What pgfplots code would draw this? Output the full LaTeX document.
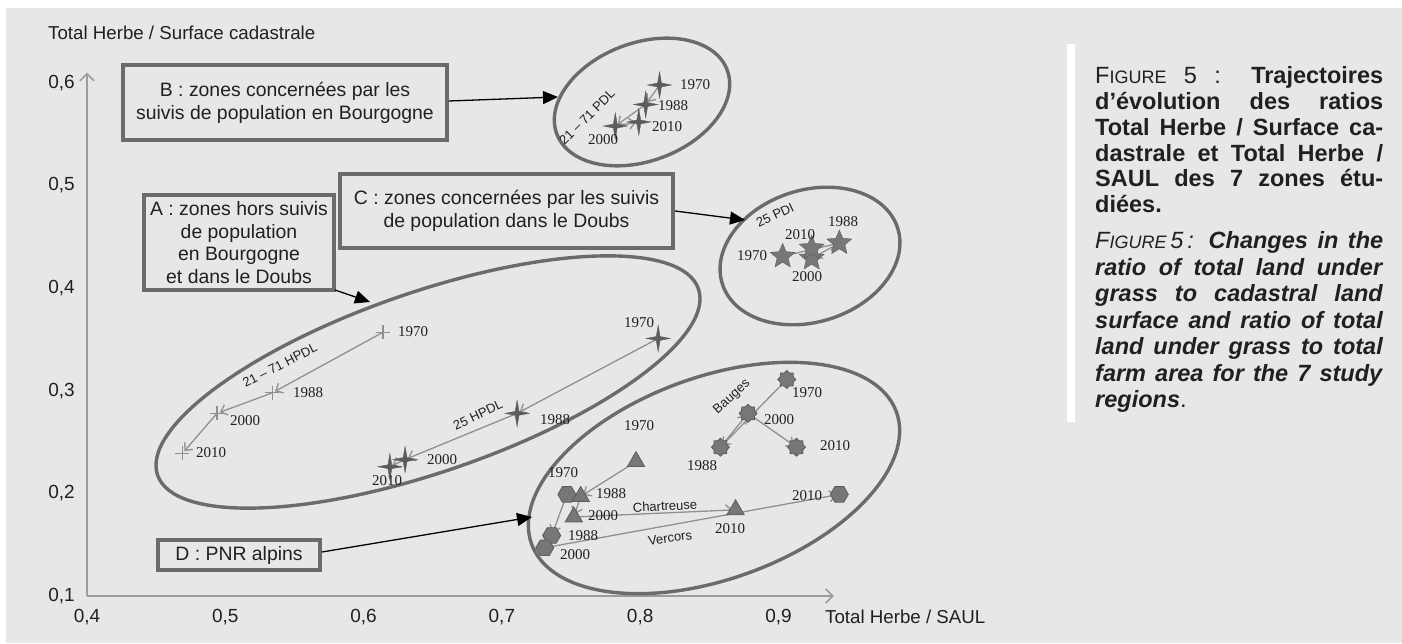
\documentclass[border=0pt]{standalone}
\usepackage{pgfplots}
\pgfplotsset{compat=1.18}
\usepackage{pgfplotstable}
\usetikzlibrary{arrows.meta}
\usepackage{fontspec}
\setmainfont{Liberation Sans}
\newfontfamily\yrfont{Liberation Serif}

\definecolor{bg}{HTML}{E6E7E8}
\definecolor{axisgray}{HTML}{9C9C9C}
\definecolor{ringgray}{HTML}{6B6B6B}
\definecolor{arrgray}{HTML}{909090}
\definecolor{markdark}{HTML}{5C5C5C}
\definecolor{markmid}{HTML}{777777}
\definecolor{ink}{HTML}{231F20}

% custom marks
\pgfdeclareplotmark{fourstar}{%
  \pgfpathmoveto{\pgfqpoint{0pt}{1.1\pgfplotmarksize}}%
  \pgfpathlineto{\pgfqpoint{0.16\pgfplotmarksize}{0.16\pgfplotmarksize}}%
  \pgfpathlineto{\pgfqpoint{\pgfplotmarksize}{0pt}}%
  \pgfpathlineto{\pgfqpoint{0.16\pgfplotmarksize}{-0.16\pgfplotmarksize}}%
  \pgfpathlineto{\pgfqpoint{0pt}{-1.1\pgfplotmarksize}}%
  \pgfpathlineto{\pgfqpoint{-0.16\pgfplotmarksize}{-0.16\pgfplotmarksize}}%
  \pgfpathlineto{\pgfqpoint{-\pgfplotmarksize}{0pt}}%
  \pgfpathlineto{\pgfqpoint{-0.16\pgfplotmarksize}{0.16\pgfplotmarksize}}%
  \pgfpathclose\pgfusepathqfillstroke}
\pgfdeclareplotmark{fivestar}{%
  \pgfpathmoveto{\pgfpointpolar{90}{\pgfplotmarksize}}%
  \pgfpathlineto{\pgfpointpolar{126}{0.45\pgfplotmarksize}}%
  \pgfpathlineto{\pgfpointpolar{162}{\pgfplotmarksize}}%
  \pgfpathlineto{\pgfpointpolar{198}{0.45\pgfplotmarksize}}%
  \pgfpathlineto{\pgfpointpolar{234}{\pgfplotmarksize}}%
  \pgfpathlineto{\pgfpointpolar{270}{0.45\pgfplotmarksize}}%
  \pgfpathlineto{\pgfpointpolar{306}{\pgfplotmarksize}}%
  \pgfpathlineto{\pgfpointpolar{342}{0.45\pgfplotmarksize}}%
  \pgfpathlineto{\pgfpointpolar{18}{\pgfplotmarksize}}%
  \pgfpathlineto{\pgfpointpolar{54}{0.45\pgfplotmarksize}}%
  \pgfpathclose\pgfusepathqfillstroke}
\pgfdeclareplotmark{gear}{%
  \pgfpathmoveto{\pgfpointpolar{0}{\pgfplotmarksize}}%
  \pgfpathlineto{\pgfpointpolar{22.5}{0.78\pgfplotmarksize}}%
  \pgfpathlineto{\pgfpointpolar{45}{\pgfplotmarksize}}%
  \pgfpathlineto{\pgfpointpolar{67.5}{0.78\pgfplotmarksize}}%
  \pgfpathlineto{\pgfpointpolar{90}{\pgfplotmarksize}}%
  \pgfpathlineto{\pgfpointpolar{112.5}{0.78\pgfplotmarksize}}%
  \pgfpathlineto{\pgfpointpolar{135}{\pgfplotmarksize}}%
  \pgfpathlineto{\pgfpointpolar{157.5}{0.78\pgfplotmarksize}}%
  \pgfpathlineto{\pgfpointpolar{180}{\pgfplotmarksize}}%
  \pgfpathlineto{\pgfpointpolar{202.5}{0.78\pgfplotmarksize}}%
  \pgfpathlineto{\pgfpointpolar{225}{\pgfplotmarksize}}%
  \pgfpathlineto{\pgfpointpolar{247.5}{0.78\pgfplotmarksize}}%
  \pgfpathlineto{\pgfpointpolar{270}{\pgfplotmarksize}}%
  \pgfpathlineto{\pgfpointpolar{292.5}{0.78\pgfplotmarksize}}%
  \pgfpathlineto{\pgfpointpolar{315}{\pgfplotmarksize}}%
  \pgfpathlineto{\pgfpointpolar{337.5}{0.78\pgfplotmarksize}}%
  \pgfpathclose\pgfusepathqfillstroke}
\pgfdeclareplotmark{hexa}{%
  \pgfpathmoveto{\pgfpointpolar{0}{\pgfplotmarksize}}%
  \pgfpathlineto{\pgfpointpolar{60}{\pgfplotmarksize}}%
  \pgfpathlineto{\pgfpointpolar{120}{\pgfplotmarksize}}%
  \pgfpathlineto{\pgfpointpolar{180}{\pgfplotmarksize}}%
  \pgfpathlineto{\pgfpointpolar{240}{\pgfplotmarksize}}%
  \pgfpathlineto{\pgfpointpolar{300}{\pgfplotmarksize}}%
  \pgfpathclose\pgfusepathqfillstroke}

% trajectories: year, point, next point
\pgfplotstableread{
yr x y nx ny
1970 0.614 0.357 0.534 0.298
1988 0.534 0.298 0.494 0.278
2000 0.494 0.278 0.469 0.239
2010 0.469 0.239 0.469 0.239
}\hpdlA
\pgfplotstableread{
yr x y nx ny
1970 0.813 0.351 0.711 0.278
1988 0.711 0.278 0.630 0.233
2000 0.630 0.233 0.619 0.226
2010 0.619 0.226 0.619 0.226
}\hpdlD
\pgfplotstableread{
yr x y nx ny
1970 0.814 0.598 0.804 0.579
1988 0.804 0.579 0.782 0.558
2000 0.782 0.558 0.799 0.562
2010 0.799 0.562 0.799 0.562
}\pdlB
\pgfplotstableread{
yr x y nx ny
1970 0.903 0.431 0.944 0.444
1988 0.944 0.444 0.924 0.429
2000 0.924 0.429 0.924 0.439
2010 0.924 0.439 0.924 0.439
}\pdiC
\pgfplotstableread{
yr x y nx ny
1970 0.906 0.311 0.858 0.245
1988 0.858 0.245 0.878 0.278
2000 0.878 0.278 0.913 0.245
2010 0.913 0.245 0.913 0.245
}\bauges
\pgfplotstableread{
yr x y nx ny
1970 0.797 0.231 0.757 0.197
1988 0.757 0.197 0.752 0.177
2000 0.752 0.177 0.869 0.184
2010 0.869 0.184 0.869 0.184
}\chartreuse
\pgfplotstableread{
yr x y nx ny
1970 0.747 0.199 0.736 0.159
1988 0.736 0.159 0.731 0.147
2000 0.731 0.147 0.944 0.199
2010 0.944 0.199 0.944 0.199
}\vercors

\newcommand\figsc{F{\fontsize{18}{18}\selectfont IGURE}}

\begin{document}
\begin{tikzpicture}[x=1pt,y=1pt]
\fill[white] (0,0) rectangle (1402,643);
\fill[bg] (6,0) rectangle (1402,635);

\begin{axis}[
  at={(87pt,47pt)}, anchor=south west,
  scale only axis, width=746.8pt, height=523.3pt,
  xmin=0.4, xmax=0.94, ymin=0.1, ymax=0.61,
  axis x line=bottom, axis y line=left,
  axis line style={draw=axisgray, line width=1.6pt,
    -{Straight Barb[length=7pt,width=14pt,line width=1.6pt]}},
  xtick={0.4,0.5,0.6,0.7,0.8,0.9},
  ytick={0.1,0.2,0.3,0.4,0.5,0.6},
  major tick length=0pt,
  /pgf/number format/.cd, use comma, fixed, fixed zerofill, precision=1,
    assume math mode=true,
  /pgfplots/.cd,
  tick label style={font=\fontsize{19}{19}\selectfont, text=ink},
  x tick label style={anchor=center, yshift=-21pt},
  y tick label style={anchor=east, inner sep=0pt, xshift=-12pt},
  clip=false,
  traj/.style={draw=arrgray, line width=1.3pt, no marks,
    quiver={u=\thisrow{nx}-\thisrow{x}, v=\thisrow{ny}-\thisrow{y},
      every arrow/.append style={draw=arrgray, line width=1.3pt,
        -{Straight Barb[length=6pt,width=11pt,line width=1.3pt]},
        shorten >=3pt}},
    skip coords between index={3}{4}},
]
% markers
\addplot[only marks, mark=+, mark size=7pt, draw=arrgray, line width=1.1pt]
  table[x=x,y=y] {\hpdlA};
\addplot[only marks, mark=fourstar, mark size=12pt, draw=markdark, fill=markdark]
  table[x=x,y=y] {\hpdlD};
\addplot[only marks, mark=fourstar, mark size=12pt, draw=markdark, fill=markdark]
  table[x=x,y=y] {\pdlB};
\addplot[only marks, mark=fivestar, mark size=13pt, draw=markdark, fill=markmid]
  table[x=x,y=y] {\pdiC};
\addplot[only marks, mark=gear, mark size=9pt, draw=markdark, fill=markmid, line width=0.8pt]
  table[x=x,y=y] {\bauges};
\addplot[only marks, mark=triangle*, mark size=10pt, draw=markdark, fill=markmid, line width=0.8pt]
  table[x=x,y=y] {\chartreuse};
\addplot[only marks, mark=hexa, mark size=9pt, draw=markdark, fill=markmid, line width=0.8pt]
  table[x=x,y=y] {\vercors};
% trajectory arrows
\addplot[traj] table[x=x,y=y] {\hpdlA};
\addplot[traj] table[x=x,y=y] {\hpdlD};
\addplot[traj] table[x=x,y=y] {\pdlB};
\addplot[traj] table[x=x,y=y] {\pdiC};
\addplot[traj] table[x=x,y=y] {\bauges};
\addplot[traj] table[x=x,y=y] {\chartreuse};
\addplot[traj] table[x=x,y=y] {\vercors};
\end{axis}

% annotations in picture pixels (y downwards)
\begin{scope}[yshift=643pt, yscale=-1,
  box/.style={draw=ringgray, line width=3.2pt},
  ring/.style={draw=ringgray, line width=3.4pt},
  call/.style={draw=black, line width=1.3pt, -{Triangle[length=15pt,width=13pt]}},
  btxt/.style={align=center, text=ink, font=\fontsize{19.4}{22.4}\selectfont},
  yr/.style={text=ink, inner sep=0pt, font=\yrfont\fontsize{15}{15}\selectfont},
  hw/.style={text=ink, inner sep=0pt, font=\fontsize{13}{13}\selectfont}]
% axis titles
\node[anchor=west, inner sep=0pt, text=ink, font=\fontsize{18.7}{18.7}\selectfont] at (48,33) {Total Herbe / Surface cadastrale};
\node[anchor=west, inner sep=0pt, text=ink, font=\fontsize{18.7}{18.7}\selectfont] at (825,617) {Total Herbe / SAUL};
% boxes
\draw[box] (123,65) rectangle (447,140);
\node[btxt] at (285,103) {B : zones concernées par les\\suivis de population en Bourgogne};
\draw[box] (144,195) rectangle (334,290);
\node[btxt] at (239,242.5) {A : zones hors suivis\\de population\\en Bourgogne\\et dans le Doubs};
\draw[box] (340,174) rectangle (673,248);
\node[btxt] at (506.5,211) {C : zones concernées par les suivis\\de population dans le Doubs};
\draw[box] (158,540) rectangle (320,570);
\node[btxt] at (239,555) {D : PNR alpins};
% ellipses
\draw[ring] (642,102) ellipse [x radius=91, y radius=59, rotate=-20.6];
\draw[ring] (810,256) ellipse [x radius=92, y radius=66, rotate=-17.6];
\draw[ring] (428,382) ellipse [x radius=286, y radius=90, rotate=-19];
\draw[ring] (714,478) ellipse [x radius=194, y radius=101, rotate=-19.9];
% callout arrows
\draw[call] (449,101) -- (558,97);
\draw[call] (675,211) -- (745,220);
\draw[call] (335,290) -- (370,302);
\draw[call] (322,552) -- (532,517);
% year labels
\node[yr] at (413,332) {1970}; \node[yr] at (308,393) {1988};
\node[yr] at (245,421) {2000}; \node[yr] at (211,453) {2010};
\node[yr] at (639,323) {1970}; \node[yr] at (555,420) {1988};
\node[yr] at (442,460) {2000}; \node[yr] at (387,481) {2010};
\node[yr] at (695,85) {1970}; \node[yr] at (673,106) {1988};
\node[yr] at (667,127) {2010}; \node[yr] at (603,140) {2000};
\node[yr] at (752,256) {1970}; \node[yr] at (800,235) {2010};
\node[yr] at (807,277) {2000}; \node[yr] at (843,222) {1988};
\node[yr] at (807,393) {1970}; \node[yr] at (779,420) {2000};
\node[yr] at (702,466) {1988}; \node[yr] at (835,446) {2010};
\node[yr] at (639,426) {1970}; \node[yr] at (611,494) {1988};
\node[yr] at (603,516) {2000}; \node[yr] at (730,529) {2010};
\node[yr] at (563,473) {1970}; \node[yr] at (583,536) {1988};
\node[yr] at (575,555) {2000}; \node[yr] at (807,496) {2010};
% trajectory names
\node[hw, rotate=45] at (587,117) {21 – 71 PDL};
\node[hw, rotate=27] at (280,365) {21 – 71 HPDL};
\node[hw, rotate=25] at (478,415) {25 HPDL};
\node[hw, rotate=25] at (775,215) {25 PDI};
\node[hw, rotate=42] at (732,397) {Bauges};
\node[hw, rotate=3] at (665,506) {Chartreuse};
\node[hw, rotate=8] at (670,538) {Vercors};
% caption
\fill[white] (1067,44) rectangle (1075,422);
\begin{scope}[every node/.style={anchor=base west, inner sep=0pt, text=ink,
    font=\fontsize{23.5}{26}\selectfont}]
\node at (1095,84) {\makebox[288pt][s]{\figsc\ 5 : \textbf{Trajectoires}}};
\node at (1095,109.7) {\makebox[288pt][s]{\textbf{d’évolution des ratios}}};
\node at (1095,135.4) {\makebox[288pt][s]{\textbf{Total Herbe / Surface ca-}}};
\node at (1095,161.1) {\makebox[288pt][s]{\textbf{dastrale et Total Herbe /}}};
\node at (1095,186.8) {\makebox[288pt][s]{\textbf{SAUL des 7 zones étu-}}};
\node at (1095,212.5) {\textbf{diées.}};
\node at (1095,249) {\makebox[288pt][s]{\textit{\figsc\,5\,:} \textbf{\textit{Changes in the}}}};
\node at (1095,275.5) {\makebox[288pt][s]{\textbf{\textit{ratio of total land under}}}};
\node at (1095,302) {\makebox[288pt][s]{\textbf{\textit{grass to cadastral land}}}};
\node at (1095,328.5) {\makebox[288pt][s]{\textbf{\textit{surface and ratio of total}}}};
\node at (1095,355) {\makebox[288pt][s]{\textbf{\textit{land under grass to total}}}};
\node at (1095,381.5) {\makebox[288pt][s]{\textbf{\textit{farm area for the 7 study}}}};
\node at (1095,408) {\textbf{\textit{regions}}.};
\end{scope}
\end{scope}
\end{tikzpicture}
\end{document}
